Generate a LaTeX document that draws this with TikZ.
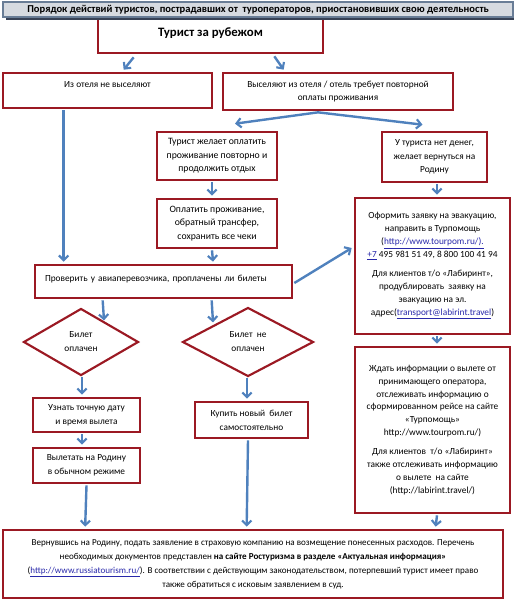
\documentclass[tikz,border=0pt]{standalone}
\usepackage{fontspec}
\setmainfont{Carlito}
\usetikzlibrary{shapes.geometric,arrows.meta,calc}
\definecolor{boxred}{RGB}{155,25,35}
\definecolor{arrblue}{RGB}{79,129,189}
\definecolor{titlefill}{RGB}{214,218,224}
\definecolor{titledraw}{RGB}{105,125,150}
\definecolor{titleshadow}{RGB}{55,65,85}
\definecolor{linkblue}{RGB}{40,40,170}
\newcommand\lnk[1]{\textcolor{linkblue}{\underline{#1}}}
\def\px{*0.75pt}
\begin{document}
\begin{tikzpicture}[x=0.75pt,y=-0.75pt,
  box/.style={draw=boxred, line width=2pt, fill=white, inner sep=0pt, align=center,
    font=\fontsize{7}{9.6}\selectfont},
  dia/.style={diamond, draw=boxred, line width=1.6pt, fill=white, inner sep=0pt, align=center,
    font=\fontsize{7}{10.5}\selectfont},
  arr/.style={draw=arrblue, line width=1.8pt, -{Straight Barb[length=3.5pt,width=7pt,line width=1.6pt]}},
  ln/.style={draw=arrblue, line width=1.8pt}
]
\useasboundingbox (0,0) rectangle (516,600);

% top box (behind title)
\node[box, minimum width=225\px, minimum height=39\px, font=\bfseries\fontsize{9.6}{12}\selectfont]
  (top) at (210.5,33.5) {Турист за рубежом};

% title bar
\fill[titleshadow] (6,5) rectangle (514,20);
\node[draw=titledraw, line width=0.8pt, fill=titlefill, minimum width=510\px, minimum height=15\px,
  inner sep=0pt, font=\bfseries\fontsize{7.9}{9}\selectfont]
  (title) at (258,9.5) {Порядок действий туристов, пострадавших от\ \ туроператоров, приостановивших свою деятельность};

\node[box, minimum width=209\px, minimum height=35\px, text depth=8.5pt] (A) at (107.5,90.5)
  {Из отеля не выселяют};
\node[box, minimum width=230\px, minimum height=37\px] (B) at (338,91.5)
  {Выселяют из отеля / отель требует повторной\\оплаты проживания};
\node[box, minimum width=120\px, minimum height=48\px, font=\fontsize{7.3}{10}\selectfont] (C) at (217,156)
  {Турист желает оплатить\\проживание повторно и\\продолжить отдых};
\node[box, minimum width=105\px, minimum height=50\px, font=\fontsize{7}{10}\selectfont] (D) at (434.5,157)
  {У туриста нет денег,\\желает вернуться на\\Родину};
\node[box, minimum width=120\px, minimum height=49\px, font=\fontsize{7.3}{10}\selectfont] (E) at (217,223.5)
  {Оплатить проживание,\\обратный трансфер,\\сохранить все чеки};
\node[box, minimum width=155\px, minimum height=136\px] (F) at (432.5,266)
  {Оформить заявку на эвакуацию,\\направить в Турпомощь\\(\lnk{http://www.tourpom.ru/).}\\
   \lnk{+7} 495 981 51 49, 8 800 100 41 94\\[5pt]
   Для клиентов т/о «Лабиринт»,\\продублировать\ \ заявку на\\эвакуацию на эл.\\адрес(\lnk{transport@labirint.travel})};
\node[box, minimum height=33\px, text width=177.75pt, align=left, inner xsep=7.5pt, text depth=5pt] (G) at (163.5,281.5)
  {Проверить у авиаперевозчика, проплачены ли билеты};
\node[dia, minimum width=115\px, minimum height=67\px] (H) at (81,342) {Билет\\оплачен};
\node[dia, minimum width=131\px, minimum height=69\px] (I) at (248,342) {Билет\ \ не\\оплачен};
\node[box, minimum width=107\px, minimum height=34\px, font=\fontsize{7}{10.5}\selectfont] (J) at (86.5,415)
  {Узнать точную дату\\и время вылета};
\node[box, minimum width=107\px, minimum height=35\px, font=\fontsize{7}{10.5}\selectfont] (K) at (86.5,465.5)
  {Вылетать на Родину\\в обычном режиме};
\node[box, minimum width=113\px, minimum height=36\px, font=\fontsize{7}{10.5}\selectfont] (L) at (251.5,420)
  {Купить новый\ \ билет\\самостоятельно};
\node[box, minimum width=155\px, minimum height=166\px] (M) at (432.5,430)
  {Ждать информации о вылете от\\принимающего оператора,\\отслеживать информацию о\\сформированном рейсе на сайте\\«Турпомощь»\\http://www.tourpom.ru/)\\[5pt]
   Для клиентов\ \ т/о «Лабиринт»\\также отслеживать информацию\\о вылете\ \ на сайте\\(http://labirint.travel/)};
\node[box, minimum width=500\px, minimum height=68\px, font=\fontsize{6.8}{10.5}\selectfont] (N) at (253,564)
  {Вернувшись на Родину, подать заявление в страховую компанию на возмещение понесенных расходов. Перечень\\
   необходимых документов представлен \textbf{на сайте Ростуризма в разделе «Актуальная информация»}\\
   (\lnk{http://www.russiatourism.ru/}). В соответствии с действующим законодательством, потерпевший турист имеет право\\
   также обратиться с исковым заявлением в суд.};

% connectors
\draw[arr] ($(top.south west)+(37,3)$) -- ($(A.north west)+(122,-2)$);
\draw[arr] ($(top.south east)+(-50,2)$) -- ($(B.north west)+(62,-2)$);
\draw[arr] ($(B.south)+(-20,1)$) -- ($(C.north)+(18,-7)$);
\draw[arr] ($(B.south)+(-20,1)$) -- ($(D.north)+(-12,-6)$);
\draw[arr] ($(A.south west)+(62,1)$) -- ($(G.north west)+(30,-2)$);
\draw[arr] ($(C.south)+(-5,1)$) -- ($(E.north)+(-5,-2)$);
\draw[arr] ($(D.south)+(2.5,1)$) -- ($(F.north)+(4.5,-2)$);
\draw[arr] ($(E.south)+(-5,1)$) -- ($(G.north)+(49.5,-2)$);
\draw[arr] ($(G.east)+(1,1.5)$) -- ($(F.west)+(-2,-18)$);
\draw[arr] ($(G.south west)+(69,1)$) -- ($(H.north)+(23,13)$);
\draw[arr] ($(G.south west)+(178,1)$) -- ($(I.north)+(-35,16)$);
\draw[arr] ($(H.south)+(1,0)$) -- ($(J.north)+(-4.5,-2)$);
\draw[arr] ($(J.south)+(-4.5,1)$) -- ($(K.north)+(-4.5,-2)$);
\draw[arr] ($(K.south)+(0,1)$) -- ($(N.north west)+(83.5,-2)$);
\draw[arr] ($(I.south)+(-1,0)$) -- ($(L.north)+(-4.5,-2)$);
\draw[arr] ($(L.south)+(-3.5,1)$) -- ($(N.north west)+(245,-2)$);
\draw[arr] ($(F.south)+(4.5,1)$) -- ($(M.north)+(4.5,-2)$);
\draw[arr] ($(M.south)+(4.5,1)$) -- ($(N.north west)+(434,-2)$);
\end{tikzpicture}
\end{document}
